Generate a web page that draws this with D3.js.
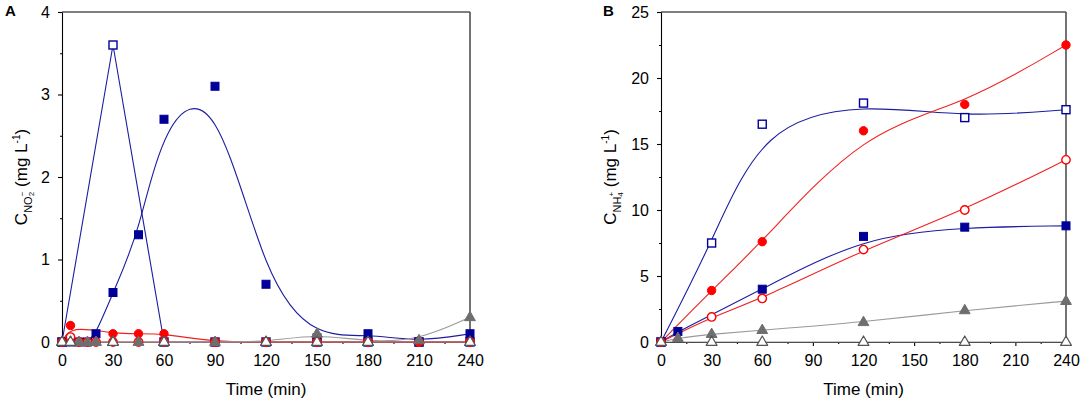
<!DOCTYPE html>
<html>
<head>
<meta charset="utf-8">
<script src="https://cdn.jsdelivr.net/npm/d3@7/dist/d3.min.js"></script>
<style>
  html, body { margin: 0; padding: 0; background: #fff; }
  svg { display: block; font-family: "Liberation Sans", Arial, sans-serif; }
</style>
</head>
<body>
<svg id="chart" width="1084" height="403"></svg>
<script>
// ---------- shared ticks ----------
const timeTicks = [0, 30, 60, 90, 120, 150, 180, 210, 240];
const timeMinor = [15, 45, 75, 105, 135, 165, 195, 225];
const yTicksA = [0, 1, 2, 3, 4];
const yMinorA = [0.5, 1.5, 2.5, 3.5];
const yTicksB = [0, 5, 10, 15, 20, 25];
const yMinorB = [2.5, 7.5, 12.5, 17.5, 22.5];

// ---------- Panel A : nitrite ----------
const aOpenSqT   = [0, 30, 60, 90, 120, 150, 180, 210, 240];
const aOpenSqV   = [0, 3.6, 0, 0, 0, 0, 0, 0, 0];
const aFillSqT   = [0, 5, 10, 15, 20, 30, 45, 60, 90, 120, 150, 180, 210, 240];
const aFillSqV   = [0, 0, 0, 0, 0.1, 0.6, 1.3, 2.7, 3.1, 0.7, 0.05, 0.1, 0, 0.1];
const aOpenCiT   = [0, 5, 10, 15, 20, 30, 45, 60, 90, 120, 150, 180, 210, 240];
const aOpenCiV   = [0, 0.06, 0, 0, 0, 0, 0, 0, 0, 0, 0, 0, 0, 0];
const aFillCiT   = [0, 5, 30, 45, 60, 90, 120, 150, 180, 210, 240];
const aFillCiV   = [0, 0.2, 0.1, 0.1, 0.1, 0, 0, 0, 0, 0, 0];
const aFillTrT   = [0, 5, 10, 15, 20, 30, 45, 60, 90, 120, 150, 180, 210, 240];
const aFillTrV   = [0, 0, 0, 0, 0, 0, 0, 0, 0, 0, 0.1, 0, 0.02, 0.3];
const aOpenTrT   = [0, 5, 30, 60, 120, 150, 180, 240];
const aOpenTrV   = [0, 0, 0, 0, 0, 0, 0, 0];

// ---------- Panel B : ammonium ----------
const bOpenSqT   = [0, 30, 60, 120, 180, 240];
const bOpenSqV   = [0, 7.5, 16.5, 18.1, 17.0, 17.6];
const bFillSqT   = [0, 10, 60, 120, 180, 240];
const bFillSqV   = [0, 0.8, 4.0, 8.0, 8.7, 8.8];
const bOpenCiT   = [0, 30, 60, 120, 180, 240];
const bOpenCiV   = [0, 1.9, 3.3, 7.0, 10.0, 13.8];
const bFillCiT   = [0, 30, 60, 120, 180, 240];
const bFillCiV   = [0, 3.9, 7.6, 16.0, 18.0, 22.5];
const bFillTrT   = [0, 10, 30, 60, 120, 180, 240];
const bFillTrV   = [0, 0.3, 0.6, 0.9, 1.5, 2.4, 3.1];
const bOpenTrT   = [0, 30, 60, 120, 180, 240];
const bOpenTrV   = [0, 0, 0, 0, 0, 0];

// ---------- styles ----------
const BLUE = "#000099", BLUE_LINE = "#1c1ca0";
const RED = "#ff0000", RED_LINE = "#f02020";
const GRAY = "#6e6e6e", GRAY_LINE = "#9a9a9a", TRI_EDGE = "#555";

const zip = (t, v) => t.map((d, i) => ({ t: d, v: v[i] }));

const svg = d3.select("#chart");
const TOP = 12, BOTTOM = 342;

function drawPanel(opts) {
  const x = d3.scaleLinear().domain([0, 240]).range([opts.x0, opts.x1]);
  const y = d3.scaleLinear().domain([0, opts.yMax]).range([BOTTOM, TOP]);
  const g = svg.append("g");

  // frame top / right
  g.append("line").attr("x1", opts.x0).attr("x2", opts.x1).attr("y1", TOP).attr("y2", TOP)
    .attr("stroke", "#555").attr("stroke-width", 1.5);
  g.append("line").attr("x1", opts.x1).attr("x2", opts.x1).attr("y1", TOP).attr("y2", BOTTOM)
    .attr("stroke", "#444").attr("stroke-width", 1.5);

  // left axis
  const ya = g.append("g").attr("transform", `translate(${opts.x0},0)`)
    .call(d3.axisLeft(y).tickValues(opts.yTicks).tickSize(4).tickSizeOuter(0).tickPadding(8).tickFormat(d3.format("d")));
  g.append("g").attr("transform", `translate(${opts.x0},0)`)
    .call(d3.axisLeft(y).tickValues(opts.yMinor).tickSize(2).tickSizeOuter(0).tickFormat(""))
    .select(".domain").remove();
  // bottom axis
  const xa = g.append("g").attr("transform", `translate(0,${BOTTOM})`)
    .call(d3.axisBottom(x).tickValues(timeTicks).tickSize(4).tickSizeOuter(0).tickPadding(9).tickFormat(d3.format("d")));
  g.append("g").attr("transform", `translate(0,${BOTTOM})`)
    .call(d3.axisBottom(x).tickValues(timeMinor).tickSize(2).tickSizeOuter(0).tickFormat(""))
    .select(".domain").remove();
  g.selectAll(".tick text").attr("font-size", 16).attr("fill", "#000")
    .attr("font-family", "'Liberation Sans', Arial, sans-serif");
  g.selectAll(".domain, .tick line").attr("stroke", "#000").attr("stroke-width", 1.1);

  // axis titles
  g.append("text").attr("x", (opts.x0 + opts.x1) / 2).attr("y", 395)
    .attr("text-anchor", "middle").attr("font-size", 17).text("Time (min)");

  const yt = g.append("text")
    .attr("transform", `translate(${opts.titleX},${(TOP + BOTTOM) / 2}) rotate(-90)`)
    .attr("text-anchor", "middle").attr("font-size", 17);
  yt.append("tspan").text("C");
  yt.append("tspan").attr("font-size", 11).attr("dy", 5).text(opts.sub1);
  yt.append("tspan").attr("font-size", 8).attr("dy", 2).text(opts.sub2);
  yt.append("tspan").attr("font-size", 8).attr("dy", -9).attr("dx", -4.4).text(opts.sup);
  yt.append("tspan").attr("font-size", 17).attr("dy", 2).text(" (mg L");
  yt.append("tspan").attr("font-size", 10).attr("dy", -7).text("-1");
  yt.append("tspan").attr("font-size", 17).attr("dy", 7).text(")");

  // panel letter
  g.append("text").attr("x", opts.letterX).attr("y", 16).attr("font-size", 15)
    .attr("font-weight", "bold").text(opts.letter);

  const plot = g.append("g");
  const line = (curve) => d3.line().x(d => x(d.t)).y(d => y(d.v)).curve(curve);

  // lines first
  opts.series.forEach(s => {
    plot.append("path").datum(zip(s.t, s.v))
      .attr("d", line(s.curve || d3.curveBasis))
      .attr("fill", "none").attr("stroke", s.line).attr("stroke-width", 1.1);
  });
  // markers
  opts.series.forEach(s => {
    const pts = zip(s.t, s.v);
    const sel = plot.append("g").selectAll("g").data(pts).enter().append("g")
      .attr("transform", d => `translate(${x(d.t)},${y(d.v)})`);
    if (s.shape === "square") {
      sel.append("rect").attr("x", -4).attr("y", -4).attr("width", 8).attr("height", 8)
        .attr("fill", s.open ? "#fff" : s.color).attr("stroke", s.color)
        .attr("stroke-width", s.open ? 1.4 : 1);
    } else if (s.shape === "circle") {
      sel.append("circle").attr("r", 4.2)
        .attr("fill", s.open ? "#fff" : s.color).attr("stroke", s.color)
        .attr("stroke-width", s.open ? 1.4 : 1);
    } else {
      sel.append("path").attr("d", "M0,-6 L5.4,3.4 L-5.4,3.4 Z")
        .attr("fill", s.open ? "#fff" : s.color).attr("stroke", s.open ? TRI_EDGE : s.color)
        .attr("stroke-width", s.open ? 1.2 : 1).attr("stroke-linejoin", "round");
    }
  });
}

drawPanel({
  x0: 62, x1: 470, yMax: 4, yTicks: yTicksA, yMinor: yMinorA,
  titleX: 27, sub1: "NO", sub2: "2", sup: "−", letter: "A", letterX: 5,
  series: [
    { t: aOpenSqT, v: aOpenSqV, shape: "square", open: true, color: BLUE, line: BLUE_LINE, curve: d3.curveLinear },
    { t: aFillSqT, v: aFillSqV, shape: "square", open: false, color: BLUE, line: BLUE_LINE },
    { t: aOpenCiT, v: aOpenCiV, shape: "circle", open: true, color: RED, line: RED_LINE },
    { t: aFillCiT, v: aFillCiV, shape: "circle", open: false, color: RED, line: RED_LINE },
    { t: aFillTrT, v: aFillTrV, shape: "tri", open: false, color: GRAY, line: GRAY_LINE },
    { t: aOpenTrT, v: aOpenTrV, shape: "tri", open: true, color: GRAY, line: GRAY_LINE }
  ]
});

drawPanel({
  x0: 661, x1: 1066, yMax: 25, yTicks: yTicksB, yMinor: yMinorB,
  titleX: 616, sub1: "NH", sub2: "4", sup: "+", letter: "B", letterX: 603,
  series: [
    { t: bOpenSqT, v: bOpenSqV, shape: "square", open: true, color: BLUE, line: BLUE_LINE },
    { t: bFillSqT, v: bFillSqV, shape: "square", open: false, color: BLUE, line: BLUE_LINE },
    { t: bOpenCiT, v: bOpenCiV, shape: "circle", open: true, color: RED, line: RED_LINE },
    { t: bFillCiT, v: bFillCiV, shape: "circle", open: false, color: RED, line: RED_LINE },
    { t: bFillTrT, v: bFillTrV, shape: "tri", open: false, color: GRAY, line: GRAY_LINE },
    { t: bOpenTrT, v: bOpenTrV, shape: "tri", open: true, color: GRAY, line: GRAY_LINE }
  ]
});
</script>
</body>
</html>
